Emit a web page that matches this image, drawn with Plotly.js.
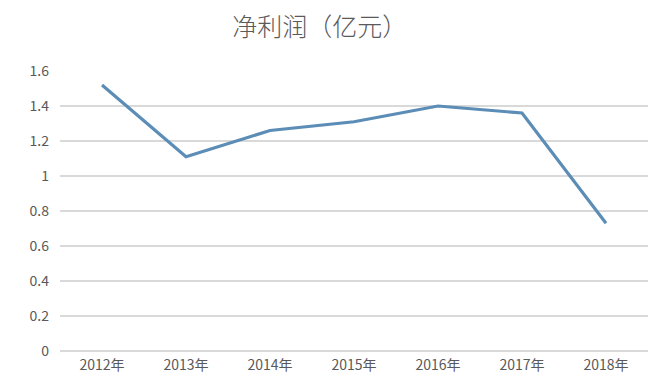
<!DOCTYPE html>
<html>
<head>
<meta charset="utf-8">
<script src="https://cdn.plot.ly/plotly-3.0.1.min.js"></script>
<style>html,body{margin:0;padding:0;background:#fff;}#chart{width:650px;height:384px;}</style>
</head>
<body>
<div id="chart"></div>
<script>
const categories = ["2012年", "2013年", "2014年", "2015年", "2016年", "2017年", "2018年"];
const netProfit = [1.52, 1.11, 1.26, 1.31, 1.40, 1.36, 0.73];
const yTickVals = [0, 0.2, 0.4, 0.6, 0.8, 1, 1.2, 1.4, 1.6];
const yTickText = ["0", "0.2", "0.4", "0.6", "0.8", "1", "1.2", "1.4", "1.6"];
const chartTitle = "净利润（亿元）";

const fontFam = '"Noto Sans CJK SC", "Noto Sans", sans-serif';

Plotly.newPlot("chart", [{
  type: "scatter",
  mode: "lines",
  x: categories,
  y: netProfit,
  line: {color: "#5b8db6", width: 3.2},
  hoverinfo: "skip"
}], {
  width: 650,
  height: 384,
  margin: {l: 60, r: 2, t: 71, b: 33},
  paper_bgcolor: "#ffffff",
  plot_bgcolor: "#ffffff",
  showlegend: false,
  title: {
    text: chartTitle,
    x: 0.492,
    xanchor: "center",
    y: 0.93,
    yanchor: "middle",
    font: {family: fontFam, size: 25, color: "#5a5a5a", weight: 300}
  },
  xaxis: {
    type: "category",
    range: [-0.5, 6.5],
    showgrid: false,
    zeroline: false,
    showline: false,
    ticks: "",
    ticklabelstandoff: 4,
    tickfont: {family: fontFam, size: 14, color: "#595959"}
  },
  yaxis: {
    range: [0, 1.6],
    tickvals: yTickVals,
    ticktext: yTickText,
    showgrid: true,
    gridcolor: "#d9d9d9",
    gridwidth: 1.3,
    zeroline: true,
    zerolinecolor: "#d9d9d9",
    zerolinewidth: 1.3,
    showline: false,
    ticks: "",
    ticklabelstandoff: 10,
    tickfont: {family: fontFam, size: 14, color: "#595959"}
  }
}, {displayModeBar: false, staticPlot: true});
</script>
</body>
</html>
